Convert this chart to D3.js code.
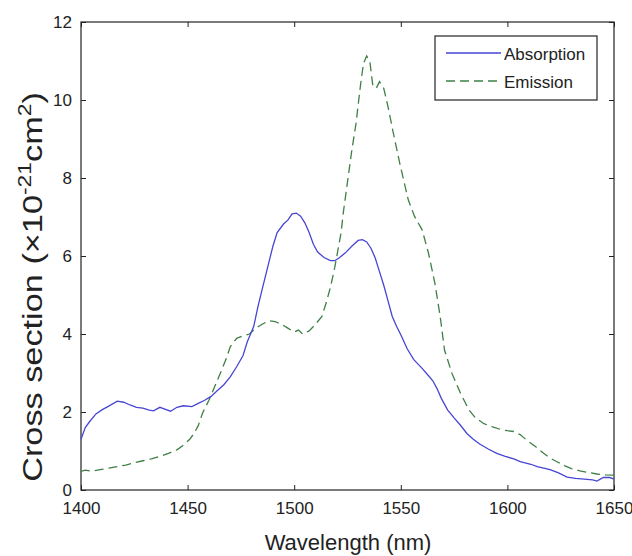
<!DOCTYPE html>
<html>
<head>
<meta charset="utf-8">
<script src="https://cdn.jsdelivr.net/npm/d3@7"></script>
<style>
  html, body { margin: 0; padding: 0; background: #fff; }
  svg { display: block; font-family: "Liberation Sans", Arial, sans-serif; }
</style>
</head>
<body>
<svg id="chart" width="632" height="556"></svg>
<script>
// ---- data ----
const absWavelength = [1400,1402,1404,1407,1410,1413,1417,1420,1423,1426,1429,1432,1434,1437,1439,1442,1445,1448,1452,1455,1458,1461,1464,1467,1470,1473,1476,1478,1481,1483,1485,1488,1490,1492,1495,1497,1499,1501,1503,1505,1507,1509,1511,1514,1517,1519,1521,1524,1527,1530,1532,1534,1536,1538,1540,1542,1544,1546,1548,1550,1553,1556,1560,1563,1565,1567,1569,1572,1575,1578,1581,1584,1587,1591,1595,1599,1603,1606,1611,1614,1620,1624,1628,1632,1636,1640,1642,1645,1648,1650];
const absorption = [1.30,1.60,1.75,1.95,2.06,2.15,2.28,2.25,2.18,2.12,2.10,2.05,2.03,2.12,2.08,2.02,2.12,2.16,2.14,2.22,2.30,2.40,2.55,2.70,2.90,3.16,3.45,3.80,4.19,4.70,5.15,5.81,6.25,6.60,6.82,6.92,7.08,7.10,7.02,6.85,6.60,6.30,6.10,5.96,5.88,5.88,5.95,6.08,6.25,6.40,6.42,6.36,6.20,5.95,5.60,5.25,4.85,4.45,4.20,3.98,3.62,3.35,3.12,2.93,2.80,2.60,2.35,2.05,1.85,1.66,1.45,1.30,1.18,1.05,0.94,0.86,0.80,0.73,0.66,0.60,0.52,0.44,0.33,0.30,0.28,0.26,0.23,0.32,0.32,0.28];

const emiWavelength = [1400,1402,1405,1409,1413,1417,1421,1425,1429,1433,1437,1441,1445,1448,1451,1453,1455,1457,1460,1462,1465,1468,1470,1473,1476,1479,1482,1485,1488,1491,1494,1497,1500,1502,1504,1507,1510,1513,1515,1517,1519,1520,1522,1523,1525,1527,1529,1531,1532.5,1534,1535.5,1536.8,1538.5,1540,1542,1544,1546.5,1549.5,1553.5,1556.5,1560,1563,1566,1568.5,1570.5,1574,1578,1582,1585,1589,1593,1597,1600,1603,1606,1609,1613,1617,1620,1623,1627,1630,1634,1638,1642,1646,1650];
const emission = [0.48,0.51,0.48,0.52,0.56,0.60,0.64,0.70,0.75,0.80,0.86,0.94,1.03,1.15,1.30,1.45,1.65,1.97,2.30,2.56,2.95,3.35,3.67,3.89,3.95,4.00,4.15,4.25,4.34,4.32,4.25,4.15,4.05,4.10,4.00,4.08,4.25,4.45,4.80,5.20,5.70,6.00,6.60,7.10,7.90,8.70,9.40,10.34,10.94,11.13,10.98,10.40,10.30,10.47,10.30,9.83,9.15,8.38,7.44,7.01,6.67,6.07,5.30,4.44,3.59,2.99,2.48,2.05,1.85,1.70,1.62,1.55,1.52,1.50,1.42,1.28,1.12,0.94,0.82,0.73,0.62,0.55,0.49,0.45,0.41,0.39,0.38];

const xTicks = [1400,1450,1500,1550,1600,1650];
const yTicks = [0,2,4,6,8,10,12];
const seriesNames = ["Absorption","Emission"];
const seriesColors = ["#4646d2","#3f7f45"];

// ---- layout ----
const svg = d3.select("#chart");
const mLeft = 81, mRight = 614, mTop = 22, mBottom = 490;

const x = d3.scaleLinear().domain([1400,1650]).range([mLeft,mRight]);
const y = d3.scaleLinear().domain([0,12]).range([mBottom,mTop]);

const axisColor = "#222";
const tickLen = 5;

// frame
svg.append("rect").attr("x",mLeft).attr("y",mTop).attr("width",mRight-mLeft).attr("height",mBottom-mTop)
  .attr("fill","none").attr("stroke",axisColor).attr("stroke-width",1.2);

// axes (inward ticks)
const xAxisB = svg.append("g").attr("transform",`translate(0,${mBottom})`)
  .call(d3.axisBottom(x).tickValues(xTicks).tickSize(-tickLen).tickPadding(18).tickFormat(d3.format("d")));
const xAxisT = svg.append("g").attr("transform",`translate(0,${mTop})`)
  .call(d3.axisTop(x).tickValues(xTicks).tickSize(-tickLen).tickFormat(""));
const yAxisL = svg.append("g").attr("transform",`translate(${mLeft},0)`)
  .call(d3.axisLeft(y).tickValues(yTicks).tickSize(-tickLen).tickPadding(9).tickFormat(d3.format("d")));
const yAxisR = svg.append("g").attr("transform",`translate(${mRight},0)`)
  .call(d3.axisRight(y).tickValues(yTicks).tickSize(-tickLen).tickFormat(""));

[xAxisB,xAxisT,yAxisL,yAxisR].forEach(g=>{
  g.select(".domain").remove();
  g.selectAll(".tick line").attr("stroke",axisColor).attr("stroke-width",1);
  g.selectAll(".tick text").attr("fill","#222").attr("font-size",17)
    .attr("font-family","'Liberation Sans', Arial, sans-serif");
});
xAxisB.selectAll(".tick text").attr("dy","0.35em");

// lines
const absData = absWavelength.map((w,i)=>({w, v: absorption[i]}));
const emiData = emiWavelength.map((w,i)=>({w, v: emission[i]}));
const line = d3.line().x(d=>x(d.w)).y(d=>y(d.v));

svg.append("path").datum(emiData).attr("d",line).attr("fill","none")
  .attr("stroke",seriesColors[1]).attr("stroke-width",1.3).attr("stroke-dasharray","9,5");
svg.append("path").datum(absData).attr("d",line).attr("fill","none")
  .attr("stroke",seriesColors[0]).attr("stroke-width",1.3);

// legend
const lg = svg.append("g");
lg.append("rect").attr("x",435).attr("y",36).attr("width",162).attr("height",64)
  .attr("fill","#fff").attr("stroke",axisColor).attr("stroke-width",1.2);
const legendY = [53, 81];
seriesNames.forEach((n,i)=>{
  lg.append("line").attr("x1",446).attr("x2",501).attr("y1",legendY[i]).attr("y2",legendY[i])
    .attr("stroke",seriesColors[i]).attr("stroke-width",1.3)
    .attr("stroke-dasharray", i===1 ? "9,5" : null);
  lg.append("text").attr("x",504).attr("y",legendY[i]+6.5).attr("font-size",17)
    .attr("fill","#222").text(n);
});

// axis titles
svg.append("text").attr("x",348).attr("y",550).attr("text-anchor","middle")
  .attr("font-size",22).attr("fill","#222").text("Wavelength (nm)");

const yt = svg.append("text").attr("transform","translate(42,287) rotate(-90) scale(1.27,1)")
  .attr("text-anchor","middle").attr("font-size",27).attr("fill","#222");
yt.append("tspan").text("Cross section (×10");
yt.append("tspan").attr("font-size",18).attr("dy",-11).text("-21");
yt.append("tspan").attr("dy",11).text("cm");
yt.append("tspan").attr("font-size",18).attr("dy",-11).text("2");
yt.append("tspan").attr("dy",11).text(")");
</script>
</body>
</html>
